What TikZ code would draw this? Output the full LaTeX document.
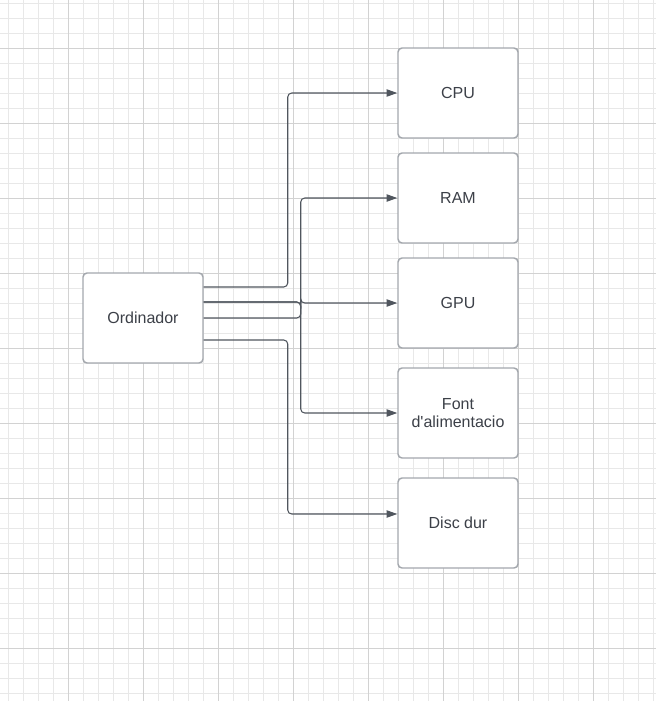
\documentclass[tikz,border=0pt]{standalone}
\usepackage{fontspec}
\setmainfont{Liberation Sans}
\usetikzlibrary{arrows.meta,calc}
\definecolor{gridminor}{HTML}{E8E8E8}
\definecolor{gridmajor}{HTML}{D2D2D2}
\definecolor{boxline}{HTML}{A3A7AD}
\definecolor{wire}{HTML}{50565E}
\definecolor{ink}{HTML}{3C4048}
\begin{document}
\begin{tikzpicture}[x=0.75pt,y=-0.75pt,
	part/.style={draw=boxline,line width=1.1pt,rounded corners=3pt,fill=white,minimum width=90pt,minimum height=67.5pt,align=center,text=ink,font=\fontsize{12}{14}\selectfont},
	wire/.style={draw=wire,line width=0.8pt,rounded corners=3pt,-{Triangle[length=8pt,width=5.5pt]}}]
	\useasboundingbox (0,0) rectangle (656,701);
	\foreach \x in {8,23,...,656} \draw[gridminor,line width=0.75pt] (\x,0) -- (\x,701);
	\foreach \y in {3,18,...,701} \draw[gridminor,line width=0.75pt] (0,\y) -- (656,\y);
	\foreach \x in {68,143,...,656} \draw[gridmajor,line width=0.75pt] (\x,0) -- (\x,701);
	\foreach \y in {48,123,...,701} \draw[gridmajor,line width=0.75pt] (0,\y) -- (656,\y);
	\node[part] (ord) at (143,318) {Ordinador};
	\node[part] (cpu) at (458,93) {CPU};
	\node[part] (ram) at (458,198) {RAM};
	\node[part] (gpu) at (458,303) {GPU};
	\node[part] (font) at (458,413) {Font\\d\textquotesingle alimentacio};
	\node[part] (disc) at (458,523) {Disc dur};
	\draw[wire] ($(ord.east)+(0,-31)$) -- ++(84,0) |- (cpu.west);
	\draw[wire] (ord.east) -- ++(97,0) |- (ram.west);
	\draw[wire] ($(ord.east)+(0,-16)$) -- ++(97,0) |- (gpu.west);
	\draw[wire] ($(ord.east)+(0,-16)$) -- ++(97,0) |- (font.west);
	\draw[wire] ($(ord.east)+(0,22)$) -- ++(84,0) |- ($(disc.west)+(0,-9)$);
\end{tikzpicture}
\end{document}
